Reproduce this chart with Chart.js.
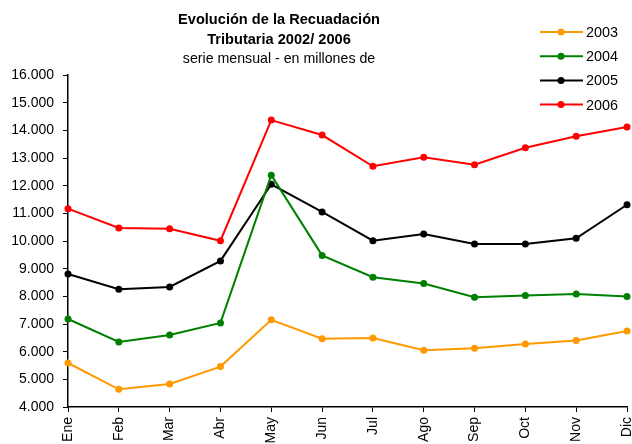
<!DOCTYPE html>
<html>
<head>
<meta charset="utf-8">
<script src="https://cdn.jsdelivr.net/npm/chart.js@4.4.1/dist/chart.umd.min.js"></script>
<style>
    html, body { margin: 0; padding: 0; background: #fff; }
    #wrap { width: 632px; height: 444px; position: relative; }
</style>
</head>
<body>
<div id="wrap"><canvas id="recaudacionChart"></canvas></div>
<script>
    // Datos (millones)
    const meses = ['Ene', 'Feb', 'Mar', 'Abr', 'May', 'Jun', 'Jul', 'Ago', 'Sep', 'Oct', 'Nov', 'Dic'];
    const serie2003 = [5590, 4640, 4830, 5460, 7150, 6470, 6495, 6050, 6120, 6280, 6400, 6750];
    const serie2004 = [7180, 6350, 6600, 7040, 12380, 9480, 8690, 8460, 7970, 8030, 8085, 7990];
    const serie2005 = [8810, 8255, 8340, 9280, 12050, 11050, 10010, 10255, 9890, 9890, 10100, 11310];
    const serie2006 = [11170, 10470, 10445, 10010, 14370, 13830, 12700, 13025, 12760, 13370, 13785, 14120];
    const anios = ['2003', '2004', '2005', '2006'];
    const colores = ['#FF9900', '#008000', '#000000', '#FF0000'];
    const tituloLineas = ['Evolución de la Recuadación', 'Tributaria 2002/ 2006'];
    const subtitulo = 'serie mensual - en millones de';
    const ejeMin = 4000, ejeMax = 16000, ejePaso = 1000;

    const fuente = '"Liberation Sans", Arial, sans-serif';

    // Título y leyenda dibujados a mano (posición tipo Excel)
    const tituloYLeyenda = {
        id: 'tituloYLeyenda',
        afterDraw(chart) {
            const ctx = chart.ctx;
            ctx.save();
            ctx.fillStyle = '#000';
            ctx.textAlign = 'center';
            ctx.textBaseline = 'middle';
            ctx.font = 'bold 14.6px ' + fuente;
            ctx.fillText(tituloLineas[0], 279, 20);
            ctx.fillText(tituloLineas[1], 279, 40);
            ctx.font = '14.2px ' + fuente;
            ctx.fillText(subtitulo, 279, 59);

            chart.data.datasets.forEach(function(ds, i) {
                const y = 32 + i * 24.2;
                ctx.strokeStyle = ds.borderColor;
                ctx.lineWidth = 2;
                ctx.beginPath();
                ctx.moveTo(540, y);
                ctx.lineTo(583, y);
                ctx.stroke();
                ctx.fillStyle = ds.pointBackgroundColor;
                ctx.beginPath();
                ctx.arc(561, y, 3.5, 0, Math.PI * 2);
                ctx.fill();
                ctx.fillStyle = '#000';
                ctx.textAlign = 'left';
                ctx.font = '14.4px ' + fuente;
                ctx.fillText(ds.label, 586, y + 1);
            });
            ctx.restore();
        }
    };

    const series = [serie2003, serie2004, serie2005, serie2006];
    const datasets = series.map(function(data, i) {
        return {
            label: anios[i],
            data: data,
            borderColor: colores[i],
            backgroundColor: colores[i],
            pointBackgroundColor: colores[i],
            pointBorderColor: colores[i],
            borderWidth: 2,
            pointRadius: 3.5,
            pointBorderWidth: 0,
            tension: 0,
            fill: false,
            clip: false
        };
    });

    const ctxRec = document.getElementById('recaudacionChart').getContext('2d');
    const recaudacionChart = new Chart(ctxRec, {
        type: 'line',
        data: { labels: meses, datasets: datasets },
        plugins: [tituloYLeyenda],
        options: {
            responsive: true,
            maintainAspectRatio: false,
            animation: false,
            layout: { padding: { left: 0, right: 5, top: 75, bottom: 0 } },
            plugins: {
                legend: { display: false },
                title: { display: false },
                tooltip: { enabled: false }
            },
            scales: {
                x: {
                    offset: false,
                    afterFit: function(scale) {
                        scale.height = 37;
                        scale.paddingLeft = 0;
                        scale.paddingRight = 0;
                    },
                    grid: { display: true, drawOnChartArea: false, drawTicks: true, tickLength: 5, color: '#000' },
                    border: { display: true, color: '#000', width: 1.5 },
                    ticks: {
                        minRotation: 90,
                        maxRotation: 90,
                        autoSkip: false,
                        padding: 5,
                        color: '#000',
                        font: { family: fuente, size: 14 }
                    }
                },
                y: {
                    min: ejeMin,
                    max: ejeMax,
                    afterFit: function(scale) { scale.width = 68; },
                    grid: { display: true, drawOnChartArea: false, drawTicks: true, tickLength: 5, color: '#000' },
                    border: { display: true, color: '#000', width: 1.5 },
                    ticks: {
                        stepSize: ejePaso,
                        padding: 9,
                        color: '#000',
                        font: { family: fuente, size: 14 },
                        callback: function(v) {
                            return String(v).replace(/\B(?=(\d{3})+(?!\d))/g, '.');
                        }
                    }
                }
            }
        }
    });
</script>
</body>
</html>
